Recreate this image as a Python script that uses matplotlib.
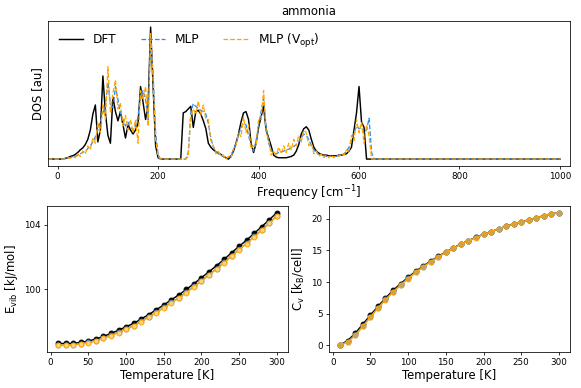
import matplotlib
matplotlib.use("Agg")
import matplotlib.pyplot as plt
import numpy as np

# phonon DOS, sampled every 5 cm^-1 from -20 to 640, then one point at 1000
freq = np.append(np.arange(-20, 645, 5), 1000)

dos_dft = [
    0, 0, 0, 0, 0, 0, 0, 0.005, 0.01, 0.02,
    0.025, 0.035, 0.05, 0.07, 0.085, 0.11, 0.15, 0.22, 0.34, 0.41,
    0.13, 0.22, 0.63, 0.35, 0.18, 0.12, 0.47, 0.36, 0.29, 0.36,
    0.26, 0.16, 0.26, 0.22, 0.19, 0.22, 0.27, 0.55, 0.43, 0.30,
    0.40, 1.00, 0.55, 0.10, 0.01, 0, 0, 0, 0, 0,
    0, 0, 0, 0, 0.35, 0.36, 0.38, 0.40, 0.24, 0.36,
    0.37, 0.34, 0.29, 0.23, 0.12, 0.09, 0.07, 0.055, 0.045, 0.035,
    0.02, 0.01, 0.0, 0.02, 0.06, 0.12, 0.19, 0.28, 0.35, 0.36,
    0.30, 0.12, 0.05, 0.12, 0.24, 0.32, 0.40, 0.22, 0.16, 0.10,
    0.03, 0.015, 0.01, 0.01, 0.01, 0.01, 0.015, 0.02, 0.03, 0.06,
    0.11, 0.19, 0.23, 0.245, 0.22, 0.15, 0.09, 0.06, 0.045, 0.035,
    0.03, 0.03, 0.025, 0.025, 0.025, 0.025, 0.03, 0.03, 0.035, 0.04,
    0.06, 0.09, 0.22, 0.35, 0.55, 0.28, 0.24, 0.0, 0, 0,
    0, 0, 0,
    0,
]

dos_mlp = [
    0, 0, 0, 0, 0, 0, 0, 0.005, 0.01, 0.012,
    0.015, 0.02, 0.03, 0.04, 0.05, 0.06, 0.08, 0.10, 0.13, 0.17,
    0.22, 0.28, 0.35, 0.40, 0.58, 0.42, 0.38, 0.55, 0.45, 0.35,
    0.30, 0.25, 0.28, 0.24, 0.22, 0.25, 0.32, 0.48, 0.52, 0.45,
    0.30, 0.92, 0.65, 0.20, 0.03, 0, 0, 0, 0, 0,
    0, 0, 0, 0, 0, 0, 0.05, 0.35, 0.42, 0.40,
    0.38, 0.37, 0.36, 0.34, 0.27, 0.16, 0.09, 0.06, 0.04, 0.03,
    0.02, 0.01, 0.01, 0.03, 0.07, 0.12, 0.18, 0.24, 0.27, 0.26,
    0.18, 0.10, 0.06, 0.14, 0.25, 0.36, 0.46, 0.25, 0.12, 0.07,
    0.04, 0.04, 0.05, 0.055, 0.06, 0.07, 0.075, 0.085, 0.095, 0.11,
    0.13, 0.16, 0.19, 0.18, 0.15, 0.10, 0.07, 0.05, 0.035, 0.03,
    0.025, 0.02, 0.02, 0.02, 0.02, 0.02, 0.025, 0.03, 0.04, 0.06,
    0.09, 0.14, 0.20, 0.25, 0.23, 0.24, 0.20, 0.22, 0.31, 0.05,
    0, 0, 0,
    0,
]

dos_vopt = [
    0, 0, 0, 0, 0, 0, 0, 0, 0.01, 0.005,
    0.02, 0.01, 0.04, 0.02, 0.06, 0.04, 0.10, 0.07, 0.16, 0.12,
    0.28, 0.20, 0.42, 0.30, 0.70, 0.35, 0.50, 0.60, 0.38, 0.42,
    0.25, 0.33, 0.22, 0.30, 0.20, 0.30, 0.12, 0.52, 0.45, 0.55,
    0.25, 0.95, 0.60, 0.15, 0.02, 0, 0, 0, 0, 0,
    0, 0, 0, 0, 0, 0, 0.02, 0.33, 0.38, 0.34,
    0.44, 0.33, 0.41, 0.30, 0.30, 0.14, 0.10, 0.04, 0.06, 0.02,
    0.03, 0.0, 0.02, 0.01, 0.08, 0.10, 0.20, 0.17, 0.32, 0.20,
    0.26, 0.08, 0.10, 0.10, 0.30, 0.30, 0.52, 0.20, 0.15, 0.03,
    0.06, 0.03, 0.09, 0.04, 0.10, 0.05, 0.12, 0.07, 0.15, 0.10,
    0.18, 0.13, 0.22, 0.20, 0.10, 0.12, 0.04, 0.06, 0.02, 0.04,
    0.01, 0.03, 0.01, 0.03, 0.01, 0.03, 0.02, 0.04, 0.03, 0.07,
    0.05, 0.18, 0.14, 0.30, 0.20, 0.28, 0.12, 0.26, 0.18, 0.0,
    0, 0, 0,
    0,
]

# thermodynamics vs temperature
temp = np.arange(10, 310, 10)

evib_dft = [96.60, 96.60, 96.60, 96.67, 96.75, 96.88, 97.04, 97.23, 97.42, 97.65,
            97.85, 98.13, 98.40, 98.71, 99.00, 99.33, 99.63, 99.98, 100.33, 100.71,
            101.08, 101.46, 101.85, 102.27, 102.67, 103.06, 103.48, 103.90, 104.33, 104.77]
evib_mlp = [96.52, 96.52, 96.53, 96.59, 96.66, 96.78, 96.93, 97.11, 97.30, 97.52,
            97.72, 97.99, 98.26, 98.56, 98.85, 99.17, 99.46, 99.81, 100.16, 100.53,
            100.90, 101.28, 101.67, 102.08, 102.48, 102.87, 103.28, 103.70, 104.13, 104.58]
evib_vopt = [96.50, 96.50, 96.51, 96.57, 96.64, 96.76, 96.91, 97.09, 97.28, 97.50,
             97.70, 97.96, 98.23, 98.53, 98.82, 99.14, 99.43, 99.78, 100.13, 100.50,
             100.87, 101.25, 101.64, 102.05, 102.45, 102.84, 103.25, 103.67, 104.10, 104.55]

cv_dft = [0.05, 0.74, 1.90, 3.33, 4.76, 6.14, 7.46, 8.68, 9.74, 10.74,
          11.69, 12.54, 13.33, 14.07, 14.76, 15.40, 16.03, 16.56, 17.09, 17.57,
          17.99, 18.41, 18.84, 19.21, 19.52, 19.84, 20.16, 20.53, 20.79, 21.00]
cv_mlp = [0.03, 0.55, 1.65, 3.05, 4.50, 5.92, 7.25, 8.47, 9.55, 10.58,
          11.55, 12.43, 13.24, 14.00, 14.71, 15.36, 15.99, 16.53, 17.06, 17.55,
          17.97, 18.40, 18.83, 19.20, 19.51, 19.83, 20.15, 20.52, 20.78, 21.00]
cv_vopt = [0.02, 0.50, 1.58, 2.96, 4.44, 5.87, 7.20, 8.41, 9.50, 10.54,
           11.52, 12.40, 13.22, 13.98, 14.70, 15.35, 15.98, 16.52, 17.05, 17.54,
           17.96, 18.39, 18.82, 19.19, 19.50, 19.82, 20.14, 20.51, 20.77, 20.99]

blue = "#2a8cf0"
orange = "#ffa500"
fs_lab = 12
fs_tick = 9

# drawn big at low dpi so ticks and pads shrink with the text
fig = plt.figure(figsize=(8.3, 5.543), dpi=70)

# top panel: DOS
ax = fig.add_axes([0.082, 0.573, 0.899, 0.374])
ax.plot(freq, dos_dft, color="black", lw=1.5, label="DFT")
ax.plot(freq, dos_mlp, color=blue, lw=1.3, ls="--", label="MLP")
ax.plot(freq, dos_vopt, color=orange, lw=1.3, ls="--", label=r"MLP (V$_{\rm opt}$)")
ax.set_xlim(-20, 1020)
ax.set_yticks([])
ax.set_xticks([0, 200, 400, 600, 800, 1000])
ax.tick_params(labelsize=fs_tick)
ax.set_xlabel(r"Frequency [cm$^{-1}$]", fontsize=fs_lab, labelpad=2)
ax.set_ylabel("DOS [au]", fontsize=fs_lab)
ax.set_title("ammonia", fontsize=fs_lab)
ax.legend(loc="upper left", ncol=3, frameon=False, fontsize=12.5)

# bottom left: vibrational energy
ax1 = fig.add_axes([0.0814, 0.0936, 0.414, 0.3755])
ax1.plot(temp, evib_dft, "o-", color="black", ms=5, lw=1.5)
ax1.plot(temp, evib_mlp, "o-", color=blue, ms=5, lw=1.5, alpha=0.8)
ax1.plot(temp, evib_vopt, "o-", color=orange, ms=5, lw=1.5, mfc="#ffd27f")
ax1.set_yticks([100, 104])
ax1.set_xticks([0, 50, 100, 150, 200, 250, 300])
ax1.tick_params(labelsize=fs_tick)
ax1.set_xlabel("Temperature [K]", fontsize=fs_lab, labelpad=2)
ax1.set_ylabel(r"E$_{\rm vib}$ [kJ/mol]", fontsize=fs_lab)

# bottom right: heat capacity
ax2 = fig.add_axes([0.5668, 0.0936, 0.414, 0.3755])
ax2.plot(temp, cv_dft, "o-", color="black", ms=5, lw=1.5)
ax2.plot(temp, cv_mlp, "o-", color=blue, ms=5, lw=1.5, alpha=0.8)
ax2.plot(temp, cv_vopt, "o-", color=orange, ms=5, lw=1.5, mfc="#c8a060")
ax2.set_yticks([0, 5, 10, 15, 20])
ax2.set_xticks([0, 50, 100, 150, 200, 250, 300])
ax2.tick_params(labelsize=fs_tick)
ax2.set_xlabel("Temperature [K]", fontsize=fs_lab, labelpad=2)
ax2.set_ylabel(r"C$_{\rm v}$ [k$_{\rm B}$/cell]", fontsize=fs_lab)

fig.savefig("out.png", dpi=70)
